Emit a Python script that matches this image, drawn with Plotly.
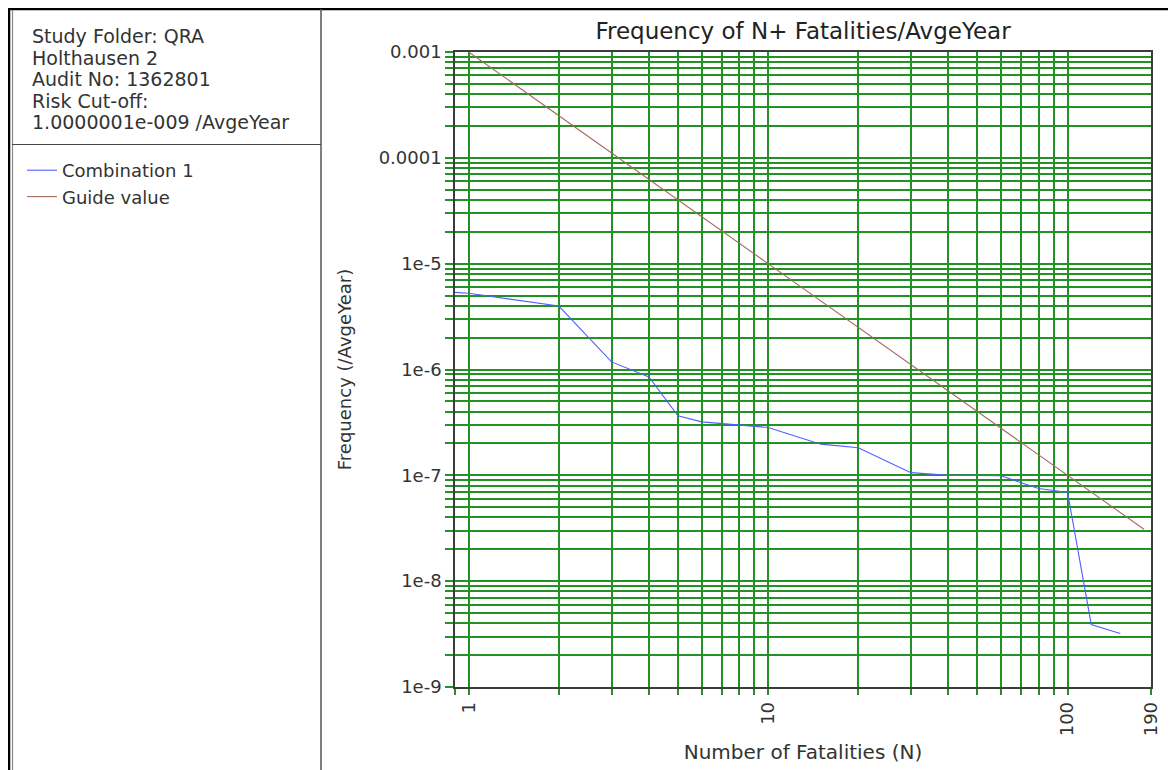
import math
import plotly.graph_objects as go

# ---------------- data ----------------
n_combination = [0.9, 1, 2, 3, 4, 5, 6, 7, 8, 9, 10, 15, 20, 30, 40, 50, 60, 70, 80, 90, 100, 120, 150]
f_combination = [5.35e-6, 5.25e-6, 3.98e-6, 1.18e-6, 8.5e-7, 3.65e-7, 3.2e-7, 3.08e-7, 3.02e-7,
                 2.92e-7, 2.83e-7, 1.97e-7, 1.82e-7, 1.06e-7, 1.0e-7, 1.0e-7, 9.9e-8, 8.5e-8,
                 7.5e-8, 7.2e-8, 6.9e-8, 3.9e-9, 3.2e-9]

n_guide = [1, 180]
f_guide = [1e-3, 3.09e-8]

x_major_values = [1, 10, 100, 190]
x_major_labels = ["1", "10", "100", "190"]
y_major_values = [1e-9, 1e-8, 1e-7, 1e-6, 1e-5, 1e-4, 1e-3]
y_major_labels = ["1e-9", "1e-8", "1e-7", "1e-6", "1e-5", "0.0001", "0.001"]

info_lines = ["Study Folder: QRA", "Holthausen 2", "Audit No: 1362801",
              "Risk Cut-off:", "1.0000001e-009 /AvgeYear"]

title_text = "Frequency of N+ Fatalities/AvgeYear"
x_title = "Number of Fatalities (N)"
y_title = "Frequency (/AvgeYear)"

# ---------------- tick / grid construction ----------------
x_range = [0.9, 190]
x_tick_values = [0.9] + [d * m for d in (1, 10) for m in range(1, 10)] + [100, 190]
x_tick_labels = [x_major_labels[x_major_values.index(v)] if v in x_major_values else ""
                 for v in x_tick_values]

y_tick_values = []
for dec in y_major_values[:-1]:
    for m in range(1, 10):
        y_tick_values.append(dec * m)
y_tick_values.append(y_major_values[-1])
y_tick_labels = []
for v in y_tick_values:
    lab = ""
    for mv, ml in zip(y_major_values, y_major_labels):
        if abs(v - mv) / mv < 1e-6:
            lab = ml
    y_tick_labels.append(lab)

# ---------------- layout geometry ----------------
OFF = 8                      # page body margin in the browser
W, H = 1176 - OFF, 770 - OFF
L, R, T, B = 455 - OFF, 1151 - OFF, 52 - OFF, 687 - OFF   # plot box in figure pixels


def px(x):
    """screen x (reference pixels) -> paper x"""
    return (x - OFF - L) / (R - L)


def py(y):
    """screen y (reference pixels) -> paper y"""
    return (B - (y - OFF)) / (B - T)


FONT = "DejaVu Sans"
TXT = "#333333"
GREEN = "rgb(34,146,34)"

fig = go.Figure()
fig.add_trace(go.Scatter(x=n_combination, y=f_combination, mode="lines", name="Combination 1",
                         line=dict(color="#4f5fff", width=1.1)))
fig.add_trace(go.Scatter(x=n_guide, y=f_guide, mode="lines", name="Guide value",
                         line=dict(color="rgb(168,105,95)", width=1.1)))

axis_common = dict(showline=True, linecolor="#3c3c3c", linewidth=1.5, mirror=True,
                   showgrid=True, gridcolor=GREEN, gridwidth=1.8,
                   ticks="outside", tickcolor=GREEN, tickwidth=1.5,
                   tickfont=dict(family=FONT, size=18, color=TXT))

fig.update_xaxes(type="log", range=[math.log10(x_range[0]), math.log10(x_range[1])],
                 tickmode="array", tickvals=x_tick_values, ticktext=x_tick_labels,
                 tickangle=-90, ticklen=6,
                 title=dict(text=x_title, font=dict(family=FONT, size=20, color=TXT), standoff=10),
                 **axis_common)
fig.update_yaxes(type="log", range=[-9, -3],
                 tickmode="array", tickvals=y_tick_values, ticktext=y_tick_labels,
                 ticklen=8,
                 title=dict(text=y_title, font=dict(family=FONT, size=18, color=TXT), standoff=22),
                 **axis_common)

shapes = [
    # outer top border
    dict(type="line", xref="paper", yref="paper", x0=px(7), x1=px(1176), y0=py(9), y1=py(9),
         line=dict(color="#000000", width=2.5)),
    # left double border
    dict(type="line", xref="paper", yref="paper", x0=px(9), x1=px(9), y0=py(8), y1=py(770),
         line=dict(color="#000000", width=2.5)),
    dict(type="line", xref="paper", yref="paper", x0=px(12.5), x1=px(12.5), y0=py(10), y1=py(770),
         line=dict(color="#8a8a8a", width=1.2)),
    # right border of info panel
    dict(type="line", xref="paper", yref="paper", x0=px(321), x1=px(321), y0=py(9), y1=py(770),
         line=dict(color="#555555", width=1.5)),
    # separator between info and legend
    dict(type="line", xref="paper", yref="paper", x0=px(12), x1=px(321), y0=py(144.5), y1=py(144.5),
         line=dict(color="#444444", width=1.2)),
]

annotations = []
line_centres = [35, 56.5, 78, 99.5, 121]
for text, yc in zip(info_lines, line_centres):
    annotations.append(dict(text=text, xref="paper", yref="paper", x=px(30), y=py(yc + 1),
                            xanchor="left", yanchor="middle", showarrow=False,
                            font=dict(family=FONT, size=19, color=TXT)))

fig.update_layout(
    width=W, height=H,
    margin=dict(l=L, r=W - R, t=T, b=H - B, autoexpand=False),
    paper_bgcolor="white", plot_bgcolor="white",
    title=dict(text=title_text, x=(L + R) / 2 / W, xanchor="center", xref="container",
               y=1 - (31 - OFF) / H, yanchor="middle", yref="container",
               font=dict(family=FONT, size=23, color="#222222")),
    showlegend=True,
    legend=dict(x=px(22), y=py(152), xanchor="left", yanchor="top",
                bgcolor="rgba(0,0,0,0)", borderwidth=0,
                font=dict(family=FONT, size=18, color=TXT), tracegroupgap=0),
    shapes=shapes,
    annotations=annotations,
)

fig.write_html("out.html")
